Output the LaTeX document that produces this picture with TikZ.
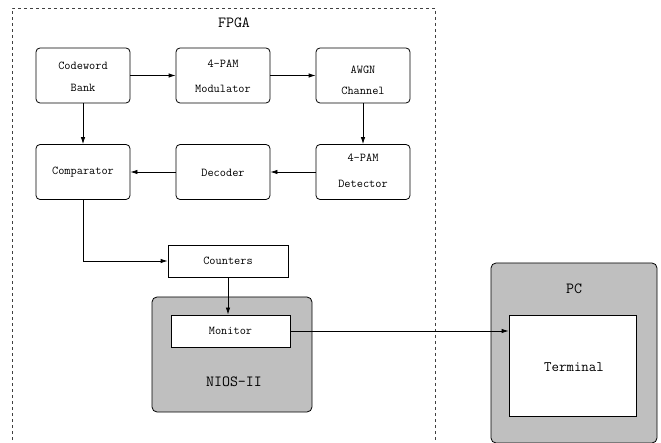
\documentclass[tikz,border=0pt]{standalone}
\usepackage{fontspec}
\usetikzlibrary{arrows.meta}
\tikzset{
  blk/.style={draw, rounded corners=4pt, line width=0.8pt, minimum width=94pt, minimum height=55pt, inner sep=0pt},
  sq/.style={draw, line width=0.8pt, fill=white, inner sep=0pt},
  grp/.style={draw, rounded corners=5pt, line width=0.8pt, fill=black!25},
  txt/.style={font=\ttfamily\fontsize{12}{14}\selectfont, inner sep=0pt, align=center},
  big/.style={font=\ttfamily\fontsize{15.5}{18}\selectfont, inner sep=0pt},
  arr/.style={-{Latex[length=7pt,width=4.5pt]}, line width=0.8pt},
  fpgaline/.style={line width=0.7pt, black!75, dash pattern=on 3pt off 3pt}
}
\begin{document}
\begin{tikzpicture}[x=1pt,y=-1pt]
\useasboundingbox (0,0) rectangle (661,443);
% FPGA region
\coordinate (fbl) at (12,446);
\coordinate (fbr) at (435,446);
\draw[fpgaline] (fbl) |- (435,8) -- (fbr);
\node[big] (fpga) at (234,23) {FPGA};
% row 1
\node[blk] (cb) at (83,75.5) {};
\node[txt] (cbt) at (83,77) {Codeword\\[8pt]Bank};
\node[blk] (mod) at (223,75.5) {};
\node[txt] (modt) at (223,76.5) {4-PAM\\[11pt]Modulator};
\node[blk] (awgn) at (363,75.5) {};
\node[txt] (awgnt) at (363,80.5) {AWGN\\[7pt]Channel};
% row 2
\node[blk] (comp) at (83,172) {};
\node[txt] (compt) at (83,172) {Comparator};
\node[blk] (dec) at (223,172) {};
\node[txt] (dect) at (223,173) {Decoder};
\node[blk] (det) at (363,172) {};
\node[txt] (dett) at (363,171) {4-PAM\\[12pt]Detector};
% counters
\node[sq, minimum width=120pt, minimum height=32pt] (cnt) at (228,261) {};
\node[txt] (cntt) at (228,261) {Counters};
% NIOS-II
\node[grp, minimum width=160pt, minimum height=115pt] (nios) at (232,354.5) {};
\node[sq, minimum width=119pt, minimum height=32pt] (mon) at (230.5,331) {};
\node[txt] (mont) at (230.5,331) {Monitor};
\node[big] (niost) at (234,382) {NIOS-II};
% PC
\node[grp, minimum width=166pt, minimum height=180pt] (pc) at (574,353) {};
\node[big] (pct) at (574,289) {PC};
\node[sq, minimum width=127pt, minimum height=101pt] (term) at (572.5,365.5) {};
\node[txt, font=\ttfamily\fontsize{14.5}{17}\selectfont] (termt) at (574,367) {Terminal};
% connectors
\draw[arr] (cb.east) -- (mod.west);
\draw[arr] (mod.east) -- (awgn.west);
\draw[arr] (awgn.south) -- (det.north);
\draw[arr] (cb.south) -- (comp.north);
\draw[arr] (det.west) -- (dec.east);
\draw[arr] (dec.west) -- (comp.east);
\draw[arr] (comp.south) |- (cnt.west);
\draw[arr] (cnt.south) -- (cnt.south |- mon.north);
\draw[arr] (mon.east) -- (mon.east -| term.west);
\end{tikzpicture}
\end{document}
